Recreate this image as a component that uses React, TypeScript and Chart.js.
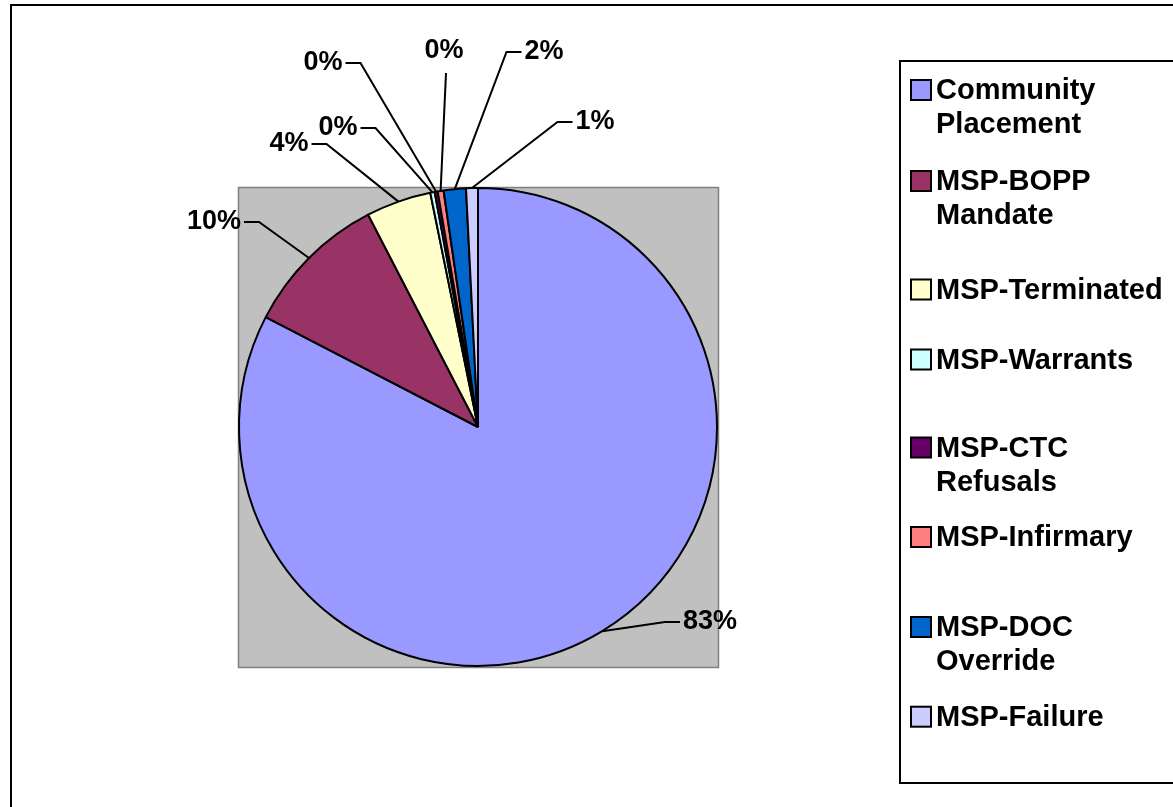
import React, { useEffect, useRef } from "react";
import { Chart, registerables } from "chart.js";

Chart.register(...registerables);

// ---- data ----
const categories = [
  "Community Placement",
  "MSP-BOPP Mandate",
  "MSP-Terminated",
  "MSP-Warrants",
  "MSP-CTC Refusals",
  "MSP-Infirmary",
  "MSP-DOC Override",
  "MSP-Failure",
];
const shares = [82.6, 9.8, 4.4, 0.3, 0.2, 0.4, 1.5, 0.8];
const sliceColors = [
  "#9999FF",
  "#993366",
  "#FFFFCC",
  "#CCFFFF",
  "#660066",
  "#FF8080",
  "#0066CC",
  "#CCCCFF",
];

// ---- layout (label text centre offsets from pie centre, and leader attach side) ----
const labelPlacement: [number, number, string][] = [
  [232, 195, "L"],
  [-264, -205, "R"],
  [-189, -283, "R"],
  [-140, -299, "R"],
  [-155, -364, "R"],
  [-34, -376, "B"],
  [66, -375, "L"],
  [117, -305, "L"],
];
const legendRowY = [90, 181, 289.5, 359.5, 447.5, 537, 627, 716.7];

const W = 1173;
const H = 807;
const LABEL_FONT = 'bold 27px "Liberation Sans", Arial, sans-serif';
const LEGEND_FONT = 'bold 29px "Liberation Sans", Arial, sans-serif';

function wrap(ctx: CanvasRenderingContext2D, text: string, maxW: number): string[] {
  const words = text.split(" ");
  const lines: string[] = [];
  let cur = "";
  for (const w of words) {
    const t = cur ? cur + " " + w : w;
    if (cur && ctx.measureText(t).width > maxW) {
      lines.push(cur);
      cur = w;
    } else cur = t;
  }
  if (cur) lines.push(cur);
  return lines;
}

const decorPlugin = {
  id: "decor",
  beforeDraw(chart: any) {
    const ctx = chart.ctx as CanvasRenderingContext2D;
    const a = chart.chartArea;
    ctx.save();
    ctx.fillStyle = "#FFFFFF";
    ctx.fillRect(0, 0, chart.width, chart.height);
    // outer chart border
    ctx.strokeStyle = "#000000";
    ctx.lineWidth = 2;
    ctx.strokeRect(11, 5, chart.width + 40, chart.height + 40);
    // plot area square
    ctx.fillStyle = "#C0C0C0";
    ctx.fillRect(a.left, a.top, a.right - a.left, a.bottom - a.top);
    ctx.strokeStyle = "#808080";
    ctx.lineWidth = 1.5;
    ctx.strokeRect(a.left + 0.5, a.top + 0.5, a.right - a.left, a.bottom - a.top);
    ctx.restore();
  },
  afterDatasetsDraw(chart: any) {
    const ctx = chart.ctx as CanvasRenderingContext2D;
    const meta = chart.getDatasetMeta(0);
    const data = chart.data.datasets[0].data as number[];
    const total = data.reduce((s, v) => s + v, 0);
    ctx.save();
    ctx.font = LABEL_FONT;
    ctx.textAlign = "center";
    ctx.textBaseline = "middle";
    meta.data.forEach((arc: any, i: number) => {
      const p = arc.getProps(["x", "y", "startAngle", "endAngle", "outerRadius"], true);
      const mid = (p.startAngle + p.endAngle) / 2;
      const px = p.x + Math.cos(mid) * p.outerRadius;
      const py = p.y + Math.sin(mid) * p.outerRadius;
      const text = Math.round((data[i] / total) * 100) + "%";
      const [dx, dy, side] = labelPlacement[i];
      const tx = p.x + dx;
      const ty = p.y + dy;
      const w = ctx.measureText(text).width;
      ctx.strokeStyle = "#000000";
      ctx.lineWidth = 2;
      ctx.beginPath();
      if (side === "R") {
        const sx = tx + w / 2 + 3;
        ctx.moveTo(sx, ty);
        ctx.lineTo(sx + 15, ty);
        ctx.lineTo(px, py);
      } else if (side === "L") {
        const sx = tx - w / 2 - 3;
        ctx.moveTo(sx, ty);
        ctx.lineTo(sx - 15, ty);
        ctx.lineTo(px, py);
      } else {
        ctx.moveTo(tx + 2, ty + 22);
        ctx.lineTo(px, py);
      }
      ctx.stroke();
      ctx.fillStyle = "#000000";
      ctx.fillText(text, tx, ty);
    });
    ctx.restore();
  },
  afterDraw(chart: any) {
    const ctx = chart.ctx as CanvasRenderingContext2D;
    const labels = chart.data.labels as string[];
    const colors = chart.data.datasets[0].backgroundColor as string[];
    ctx.save();
    // legend box
    ctx.strokeStyle = "#000000";
    ctx.lineWidth = 2;
    ctx.strokeRect(900, 61, 400, 722);
    ctx.font = LEGEND_FONT;
    ctx.textAlign = "left";
    ctx.textBaseline = "middle";
    labels.forEach((lab, i) => {
      const y = legendRowY[i];
      ctx.fillStyle = colors[i];
      ctx.fillRect(911, y - 10, 20, 20);
      ctx.lineWidth = 2;
      ctx.strokeStyle = "#000000";
      ctx.strokeRect(911, y - 10, 20, 20);
      ctx.fillStyle = "#000000";
      const lines = wrap(ctx, lab, 236);
      lines.forEach((ln, k) => ctx.fillText(ln, 936, y + 1 + k * 34));
    });
    ctx.restore();
  },
};

export default function App() {
  const ref = useRef<HTMLCanvasElement | null>(null);
  useEffect(() => {
    document.body.style.margin = "0";
    if (!ref.current) return;
    const chart = new Chart(ref.current, {
      type: "pie",
      data: {
        labels: categories,
        datasets: [
          {
            data: shares,
            backgroundColor: sliceColors,
            borderColor: "#000000",
            borderWidth: 2,
          },
        ],
      },
      options: {
        responsive: false,
        animation: false,
        devicePixelRatio: 1,
        layout: { padding: { left: 238, right: W - 718, top: 187, bottom: H - 667 } },
        plugins: {
          legend: { display: false },
          tooltip: { enabled: false },
        },
      },
      plugins: [decorPlugin],
    });
    return () => chart.destroy();
  }, []);
  return (
    <div style={{ position: "fixed", left: 0, top: 0, width: W, height: H }}>
      <canvas ref={ref} width={W} height={H} style={{ width: W, height: H, display: "block" }} />
    </div>
  );
}
